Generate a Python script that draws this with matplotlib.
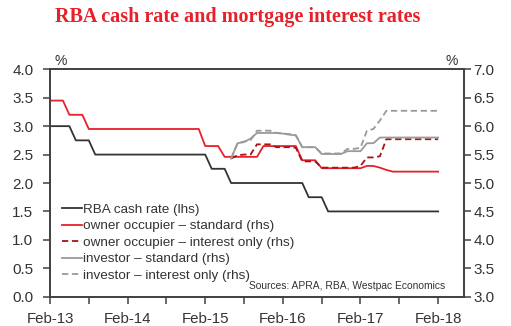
import matplotlib
matplotlib.use("Agg")
import matplotlib.pyplot as plt
import numpy as np

plt.rcParams['font.family'] = ['Liberation Sans', 'DejaVu Sans']

# months since Feb-13 (0 = Feb-13, 60 = Feb-18)
months = np.arange(61)
nan = np.nan

cash_rate = [3.0]*4 + [2.75]*3 + [2.5]*18 + [2.25]*3 + [2.0]*12 + [1.75]*3 + [1.5]*18

oo_standard = ([6.45]*3 + [6.2]*3 + [5.95]*18 + [5.65]*3 + [5.46]*6 + [5.65]*6
               + [5.4]*3 + [5.26]*7 + [5.3, 5.3, 5.27, 5.23] + [5.2]*8)

oo_io = ([nan]*28 + [5.43, 5.49, 5.5, 5.5, 5.68, 5.68, 5.68, 5.63, 5.63, 5.63, 5.62,
                     5.38, 5.38, 5.38] + [5.27]*6 + [5.3, 5.45, 5.45, 5.47] + [5.77]*9)

inv_standard = ([nan]*28 + [5.43, 5.7, 5.72, 5.78, 5.88, 5.88, 5.88, 5.88, 5.87, 5.85, 5.84,
                            5.63, 5.63, 5.63] + [5.51]*4 + [5.56]*3 + [5.7, 5.7] + [5.8]*10)

inv_io = ([nan]*28 + [5.43, 5.7, 5.73, 5.75, 5.92, 5.92, 5.92, 5.88, 5.87, 5.86, 5.84,
                      5.63, 5.63, 5.63] + [5.52]*4 + [5.6]*2 + [5.62, 5.92, 5.95, 6.1] + [6.27]*9)

tick_pos = np.arange(0, 64, 6)
tick_labels = ['Feb-13', '', 'Feb-14', '', 'Feb-15', '', 'Feb-16', '', 'Feb-17', '', 'Feb-18']

red = '#e8202a'
darkred = '#a31515'
grey = '#9a9a9a'
black = '#333333'
axcol = '#404040'

fig = plt.figure(figsize=(5.11, 3.26), dpi=100)
ax = fig.add_axes([0.0978, 0.0899, 0.8102, 0.6975])
ax2 = ax.twinx()

l1, = ax.plot(months, cash_rate, color=black, lw=1.3)
l2, = ax2.plot(months, oo_standard, color=red, lw=1.3)
l3, = ax2.plot(months, oo_io, color=darkred, lw=1.3, ls=(0, (3.5, 2)))
l4, = ax2.plot(months, inv_standard, color=grey, lw=1.3)
l5, = ax2.plot(months, inv_io, color=grey, lw=1.3, ls=(0, (3.5, 2)))

ax.set_xlim(0, 64)
ax.set_ylim(0, 4)
ax2.set_ylim(3, 7)
ax.set_yticks(np.arange(0, 4.01, 0.5))
ax2.set_yticks(np.arange(3, 7.01, 0.5))
ax.set_yticklabels([f"{v:.1f}" for v in np.arange(0, 4.01, 0.5)])
ax2.set_yticklabels([f"{v:.1f}" for v in np.arange(3, 7.01, 0.5)])
ax.set_xticks(tick_pos)
ax.set_xticklabels(tick_labels)

for a in (ax, ax2):
    for s in a.spines.values():
        s.set_color(axcol)
        s.set_linewidth(1.2)
    a.tick_params(colors=axcol, labelcolor='#333333', labelsize=11, length=5, width=1.1, direction='out')
ax.tick_params(axis='x', pad=6, labelsize=10.8)
ax.tick_params(axis='y', pad=7)
ax2.tick_params(axis='y', pad=2)

ax.text(0.01, 1.005, '%', transform=ax.transAxes, fontsize=10, color='#333333', va='bottom', ha='left')
ax2.text(0.985, 1.005, '%', transform=ax.transAxes, fontsize=10, color='#333333', va='bottom', ha='right')

leg = ax.legend([l1, l2, l3, l4, l5],
                ['RBA cash rate (lhs)', 'owner occupier \u2013 standard (rhs)',
                 'owner occupier \u2013 interest only (rhs)', 'investor \u2013 standard (rhs)',
                 'investor \u2013 interest only (rhs)'],
                loc='upper left', bbox_to_anchor=(0.028, 0.41), frameon=False,
                fontsize=9.7, handlelength=1.5, handletextpad=0.12, labelspacing=0.3,
                borderpad=0, borderaxespad=0)
for t in leg.get_texts():
    t.set_color('#333333')

ax.text(0.955, 0.025, 'Sources: APRA, RBA, Westpac Economics', transform=ax.transAxes,
        fontsize=7.4, color='#333333', ha='right', va='bottom')

fig.text(0.466, 0.948, 'RBA cash rate and mortgage interest rates', family='Liberation Serif',
         fontweight='bold', fontsize=14.5, color=red, ha='center', va='center')

fig.savefig('out.png', dpi=100)
